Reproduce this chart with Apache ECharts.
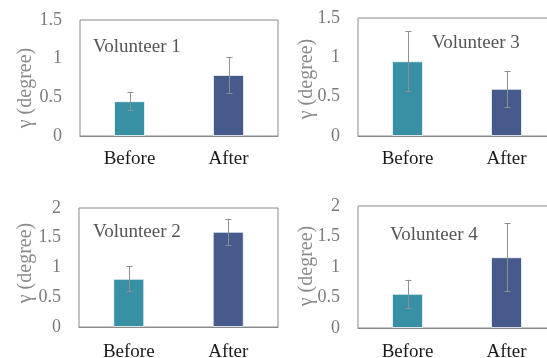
<!DOCTYPE html>
<html><head><meta charset="utf-8">
<script src="https://cdn.jsdelivr.net/npm/echarts@6/dist/echarts.min.js"></script>
<style>html,body{margin:0;padding:0;background:#fff}#c{width:547px;height:358px}</style>
</head><body><div id="c"></div>
<script>
const categories = ['Before', 'After'];
const titles = ['Volunteer 1', 'Volunteer 3', 'Volunteer 2', 'Volunteer 4'];
const yTitle = 'γ (degree)';
const vol1 = [0.45, 0.79], err1 = [0.12, 0.23];
const vol3 = [0.95, 0.60], err3 = [0.38, 0.23];
const vol2 = [0.81, 1.60], err2 = [0.21, 0.22];
const vol4 = [0.56, 1.16], err4 = [0.23, 0.56];
const yMax = [1.5, 1.5, 2, 2];

const values = [vol1, vol3, vol2, vol4];
const errors = [err1, err3, err2, err4];
const barColors = ['#3890a5', '#465a8b'];
const grids = [
  {left: 80, top: 20, width: 198, height: 116},
  {left: 358, top: 18, width: 198, height: 118},
  {left: 79, top: 208, width: 199, height: 119},
  {left: 358, top: 206, width: 198, height: 122}
];
const labelMargins = [14, 14, 16, 15];
const titlePos = [[93, 47], [432, 43], [93, 232], [390, 235]];
const yTitlePos = [[26, 88], [307, 79], [26, 263], [307, 266]];
const serif = 'Liberation Serif';

const option = {
  animation: false,
  grid: grids.map(g => Object.assign({show: true, borderColor: '#8a8a8a', borderWidth: 1, outerBoundsMode: 'none', containLabel: false}, g)),
  xAxis: grids.map((g, i) => ({
    type: 'category', gridIndex: i, data: categories,
    axisLine: {lineStyle: {color: '#8a8a8a', width: 1}},
    axisTick: {show: false},
    axisLabel: {color: '#1a1a1a', fontFamily: serif, fontSize: 19, margin: labelMargins[i]}
  })),
  yAxis: grids.map((g, i) => ({
    type: 'value', gridIndex: i, min: 0, max: yMax[i], interval: 0.5,
    axisLine: {show: false}, axisTick: {show: false}, splitLine: {show: false},
    axisLabel: {color: '#7a7a7a', fontFamily: serif, fontSize: 18, margin: 18, padding: [3, 0, 0, 0]}
  })),
  series: [],
  graphic: []
};

values.forEach((vals, i) => {
  option.series.push({
    type: 'bar', xAxisIndex: i, yAxisIndex: i, barWidth: 31,
    data: vals.map((v, k) => ({value: v, itemStyle: {color: barColors[k]}})),
    itemStyle: {borderColor: 'rgba(255,255,255,0.7)', borderWidth: 1}
  });
  option.series.push({
    type: 'custom', xAxisIndex: i, yAxisIndex: i, z: 10,
    data: vals.map((v, k) => [k, v - errors[i][k], v + errors[i][k]]),
    renderItem: function (params, api) {
      const lo = api.coord([api.value(0), api.value(1)]);
      const hi = api.coord([api.value(0), api.value(2)]);
      const x = Math.round(lo[0]) + 0.5;
      const cw = 3;
      const st = {stroke: '#8f8f8f', lineWidth: 1, fill: null};
      return {type: 'group', children: [
        {type: 'line', shape: {x1: x, y1: hi[1], x2: x, y2: lo[1]}, style: st},
        {type: 'line', shape: {x1: x - cw, y1: Math.round(hi[1]) + 0.5, x2: x + cw, y2: Math.round(hi[1]) + 0.5}, style: st},
        {type: 'line', shape: {x1: x - cw, y1: Math.round(lo[1]) + 0.5, x2: x + cw, y2: Math.round(lo[1]) + 0.5}, style: st}
      ]};
    }
  });
  option.graphic.push({
    type: 'text', x: titlePos[i][0], y: titlePos[i][1],
    style: {text: titles[i], fill: '#555555', fontFamily: serif, fontSize: 19, textAlign: 'left', textVerticalAlign: 'middle'}
  });
  option.graphic.push({
    type: 'text', x: yTitlePos[i][0], y: yTitlePos[i][1], rotation: Math.PI / 2,
    style: {text: yTitle, fill: '#8a8a8a', fontFamily: serif, fontSize: 20, textAlign: 'center', textVerticalAlign: 'middle'}
  });
});

const chart = echarts.init(document.getElementById('c'), null, {renderer: 'canvas'});
chart.setOption(option);
</script>
</body></html>
